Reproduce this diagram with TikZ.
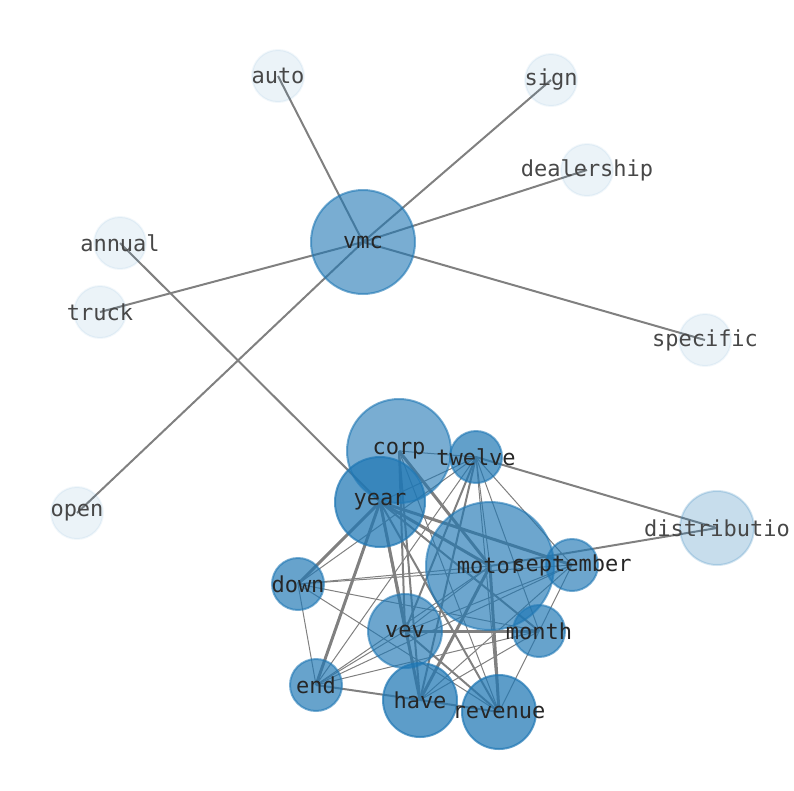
\documentclass[tikz,border=0pt]{standalone}
\usepackage{fontspec}
\setmonofont{DejaVu Sans Mono}
\usetikzlibrary{positioning}
\pgfdeclarelayer{background}
\pgfsetlayers{background,main}
\definecolor{cnode}{RGB}{31,119,180}
\definecolor{cedge}{RGB}{128,128,128}
\definecolor{ctext}{RGB}{38,38,38}

\begin{document}
\begin{tikzpicture}[x=1pt, y=-1pt,
    word/.style = {circle, draw=cnode, line width=2pt, fill=cnode, inner sep=0pt},
    leaf/.style = {word, minimum size=52pt, fill opacity=.09, draw opacity=.06},
    hub/.style  = {word, fill opacity=.6, draw opacity=.6},
    lbl/.style  = {font=\ttfamily\fontsize{22}{22}\selectfont, text=ctext, inner sep=0pt},
    wk/.style = {draw=cedge, line width=1pt},
    md/.style = {draw=cedge, line width=2pt},
    hv/.style = {draw=cedge, line width=3pt}]
\useasboundingbox (0,0) rectangle (794,790);

% outer words
\node[leaf](auto) at (278,76) {};
\node[leaf](sign) at (551,80) {};
\node[leaf](dealership) at (587,170) {};
\node[leaf](annual) at (120,243) {};
\node[leaf](truck) at (100,312) {};
\node[leaf](specific) at (705,340) {};
\node[leaf](open) at (77,513) {};
\node[word, minimum size=74pt, fill opacity=.25, draw opacity=.2](distributio) at (717,528) {};
\node[hub, minimum size=104pt](vmc) at (363,242) {};

% cluster
\node[hub, minimum size=104pt](corp) at (399,451) {};
\node[hub, minimum size=128pt, fill opacity=.65](motor) at (490,566) {};
\node[hub, minimum size=90pt, fill opacity=.72, draw opacity=.7](year) at (380,502) {};
\node[hub, minimum size=52pt, fill opacity=.7](twelve) at (476,457) {};
\node[hub, minimum size=52pt, fill opacity=.65](september) at (572,565) {};
\node[hub, minimum size=52pt, fill opacity=.68](down) at (298,584) {};
\node[hub, minimum size=74pt, fill opacity=.65](vev) at (405,631) {};
\node[hub, minimum size=52pt, fill opacity=.68](month) at (539,631) {};
\node[hub, minimum size=52pt, fill opacity=.68](end) at (316,685) {};
\node[hub, minimum size=74pt, fill opacity=.72, draw opacity=.7](have) at (420,700) {};
\node[hub, minimum size=74pt, fill opacity=.72, draw opacity=.7](revenue) at (499,712) {};

% words on top
\foreach \n in {auto, sign, dealership, annual, truck, specific, open, distributio}
  \node[lbl, text=black!72](\n-t) at (\n) {\n};
\foreach \n in {vmc, corp, motor, year, twelve, september, down, vev, month, end, have, revenue}
  \node[lbl](\n-t) at (\n) {\n};

\begin{pgfonlayer}{background}
% vmc star
\foreach \w in {auto, sign, dealership, truck, specific, open}
  \draw[md] (vmc.center) -- (\w.center);
\draw[md] (annual.center) -- (year.center);
\draw[md] (twelve.center) -- (distributio.center);
\draw[md] (motor.center) -- (distributio.center);
% heavy links
\foreach \a/\b in {corp/motor, year/motor, year/september, year/down, year/end,
                   year/have, motor/revenue, vev/month, motor/have}
  \draw[hv] (\a.center) -- (\b.center);
% medium links
\foreach \a/\b in {year/vev, year/month, corp/have, twelve/have, twelve/vev, year/revenue,
                   vev/revenue, have/revenue, end/have, corp/vev}
  \draw[md] (\a.center) -- (\b.center);
% light links
\foreach \a/\b in {corp/twelve, twelve/year, twelve/down, twelve/end, twelve/motor,
                   twelve/september, twelve/month, twelve/revenue, down/motor,
                   down/september, down/month, down/revenue, down/end, end/motor,
                   end/september, end/month, end/vev, motor/vev, vev/september,
                   month/have, september/revenue, september/have, corp/revenue}
  \draw[wk] (\a.center) -- (\b.center);
\end{pgfonlayer}
\end{tikzpicture}
\end{document}
